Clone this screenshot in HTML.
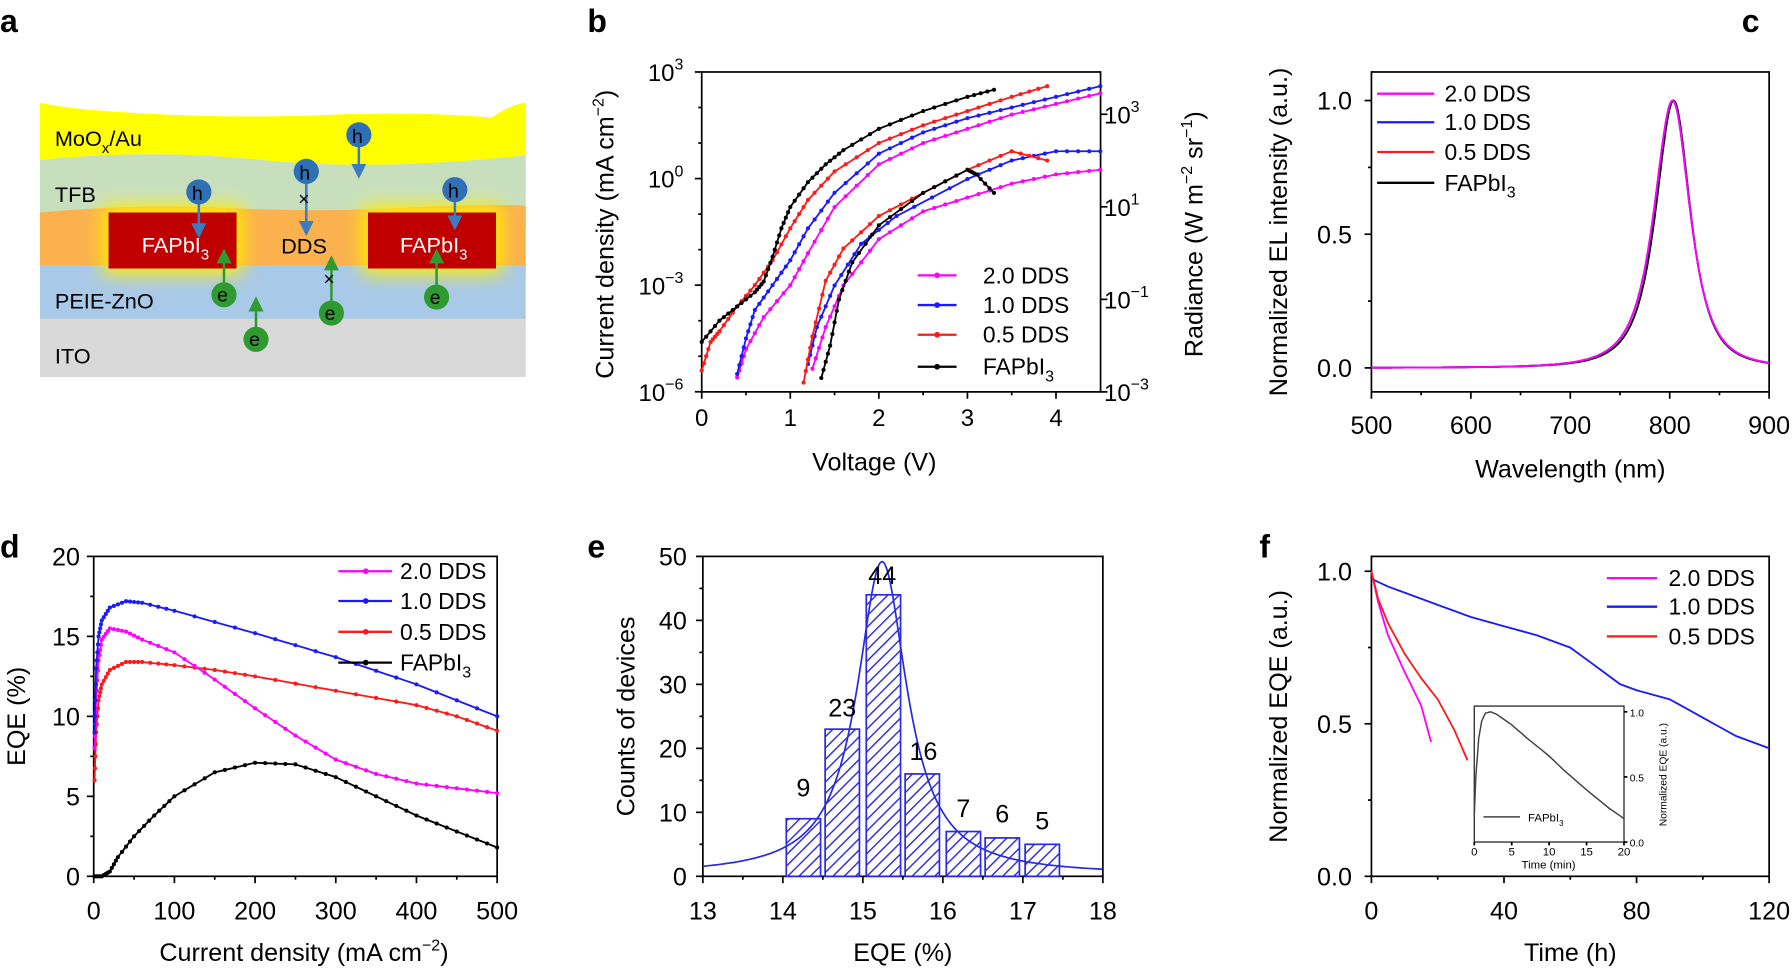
<!DOCTYPE html>
<html><head><meta charset="utf-8"><style>
html,body{margin:0;padding:0;background:#fff}
svg{display:block}
text{font-family:"Liberation Sans",Arial,sans-serif;fill:#000}
</style></head><body>
<svg id="s" width="1792" height="970" viewBox="0 0 1568 849" preserveAspectRatio="none" xmlns="http://www.w3.org/2000/svg">
<defs>
<filter id="glow" x="-30%" y="-40%" width="160%" height="180%"><feGaussianBlur stdDeviation="8"/></filter>
<pattern id="hatch" width="7" height="7" patternUnits="userSpaceOnUse" patternTransform="rotate(45)"><rect width="7" height="7" fill="#fff"/><line x1="0" y1="0" x2="0" y2="7" stroke="#2a2ae0" stroke-width="2.5"/></pattern>
<marker id="ab" markerWidth="6" markerHeight="6" refX="3" refY="3" orient="auto"><path d="M0,0L6,3L0,6z" fill="#3a7cc0"/></marker>
<marker id="ag" markerWidth="6" markerHeight="6" refX="3" refY="3" orient="auto"><path d="M0,0L6,3L0,6z" fill="#2f9a2f"/></marker>
</defs>
<g font-weight="bold" font-size="28">
<text x="0" y="28">a</text><text x="514" y="28">b</text><text x="1524" y="28">c</text>
<text x="0" y="488">d</text><text x="514" y="488">e</text><text x="1102" y="488">f</text></g>

<g>
<path d="M35,90 Q60,95 90,97 Q200,105 300,100 Q380,98 430,103 Q450,90 460,90 L460,200 L35,200z" fill="#ffff00"/>
<path d="M35,140 Q130,130 230,140 Q330,150 460,136 L460,200 L35,200z" fill="#c8dfbe"/>
<path d="M35,186 Q120,178 200,182 T350,182 T460,180 L460,240 L35,240z" fill="#fbb24e"/>
<rect x="35" y="232" width="425" height="50" fill="#a9c9e8"/>
<rect x="35" y="279" width="425" height="51" fill="#d9d9d9"/>
<rect x="90" y="180" width="122" height="60" fill="#ffee00" filter="url(#glow)"/>
<rect x="317" y="180" width="122" height="60" fill="#ffee00" filter="url(#glow)"/>
<rect x="95" y="186" width="112" height="49" fill="#c00000"/>
<rect x="322" y="186" width="112" height="49" fill="#c00000"/>
<g font-size="19"><text x="48" y="128">MoO<tspan font-size="13" dy="6">x</tspan><tspan dy="-6">/Au</tspan></text>
<text x="48" y="177">TFB</text><text x="48" y="270">PEIE-ZnO</text><text x="48" y="318">ITO</text>
<text x="246" y="222">DDS</text>
<text x="124" y="221" style="fill:#fff">FAPbI<tspan font-size="13" dy="6" style="fill:#fff">3</tspan></text>
<text x="350" y="221" style="fill:#fff">FAPbI<tspan font-size="13" dy="6" style="fill:#fff">3</tspan></text></g>
<g stroke="#3a7cc0" stroke-width="2.2" marker-end="url(#ab)">
<line x1="174" y1="172" x2="174" y2="202"/><line x1="268" y1="152" x2="268" y2="200"/><line x1="314" y1="118" x2="314" y2="150"/><line x1="398" y1="168" x2="398" y2="195"/></g>
<g stroke="#2f9a2f" stroke-width="2.2" marker-end="url(#ag)">
<line x1="196" y1="255" x2="196" y2="224"/><line x1="290" y1="272" x2="290" y2="230"/><line x1="382" y1="258" x2="382" y2="224"/><line x1="224" y1="296" x2="224" y2="266"/></g>
<g fill="#2f6fb5"><circle cx="174" cy="168" r="11"/><circle cx="268" cy="150" r="11"/><circle cx="314" cy="118" r="11"/><circle cx="398" cy="166" r="11"/></g>
<g fill="#2f9a2f"><circle cx="196" cy="258" r="11"/><circle cx="290" cy="274" r="11"/><circle cx="382" cy="260" r="11"/><circle cx="224" cy="297" r="11"/></g>
<g font-size="17"><text x="168" y="175">h</text><text x="262" y="157">h</text><text x="308" y="125">h</text><text x="392" y="173">h</text>
<text x="190" y="264">e</text><text x="284" y="280">e</text><text x="376" y="266">e</text><text x="218" y="303">e</text></g>
<text x="261" y="180" font-size="17">×</text><text x="283" y="250" font-size="17">×</text>
</g>
<g id="plots"></g>
</svg>
<script>
const NS="http://www.w3.org/2000/svg";const P=document.getElementById('plots');
function el(t,a,txt){const e=document.createElementNS(NS,t);for(const k in a)e.setAttribute(k,a[k]);if(txt!==undefined)e.innerHTML=txt;P.appendChild(e);return e;}
function frame(x0,y0,x1,y1){el('rect',{x:x0,y:y0,width:x1-x0,height:y1-y0,fill:'none',stroke:'#000','stroke-width':1.5});}
function tx(x,y,s,o){o=o||{};el('text',Object.assign({x:x,y:y,'font-size':o.fs||21,'text-anchor':o.a||'middle'},o.extra||{}),s);}
function poly(pts,c,w,mk){el('polyline',{points:pts.map(p=>p[0].toFixed(1)+','+p[1].toFixed(1)).join(' '),fill:'none',stroke:c,'stroke-width':w||1.8});
 if(mk){for(let i=0;i<pts.length;i+=mk)el('circle',{cx:pts[i][0],cy:pts[i][1],r:1.8,fill:c});}}
function interp(arr,n){const out=[];for(let i=0;i<arr.length-1;i++){for(let k=0;k<n;k++){const t=k/n;out.push([arr[i][0]+(arr[i+1][0]-arr[i][0])*t,arr[i][1]+(arr[i+1][1]-arr[i][1])*t]);}}out.push(arr[arr.length-1]);return out;}
function vt(x,y,len){el('line',{x1:x,y1:y,x2:x,y2:y+len,stroke:'#000','stroke-width':1.5});}
function ht(x,y,len){el('line',{x1:x,y1:y,x2:x+len,y2:y,stroke:'#000','stroke-width':1.5});}
const C={m:'#ff00ff',b:'#1a1aff',r:'#ff1a1a',k:'#000'};

{const X=v=>614+v*77.5,YL=l=>63+(3-l)*31.1,YR=l=>100+(3-l)*40.5;
frame(614,63,963,343);
for(let v=0;v<=4;v++){vt(X(v),343,6);tx(X(v),373,v);} for(let v=0.5;v<4.5;v+=1)vt(X(v),343,3);
for(let l=-6;l<=3;l++){ht(614,YL(l),-(l%3==0?6:3));}
[3,0,-3,-6].forEach(l=>{el('text',{x:598,y:YL(l)+8,'font-size':21,'text-anchor':'end'},'10<tspan font-size="14" dy="-10">'+(l<0?'−'+(-l):l)+'</tspan>');});
[3,1,-1,-3].forEach(l=>{ht(963,YR(l),6);el('text',{x:966,y:YR(l)+8,'font-size':21},'10<tspan font-size="14" dy="-10">'+(l<0?'−'+(-l):l)+'</tspan>');});
tx(765,412,'Voltage (V)',{fs:22});
el('text',{transform:'translate(537,205) rotate(-90)','font-size':22,'text-anchor':'middle'},'Current density (mA cm<tspan font-size="14" dy="-9">−2</tspan><tspan dy="9">)</tspan>');
el('text',{transform:'translate(1052,205) rotate(-90)','font-size':22,'text-anchor':'middle'},'Radiance (W m<tspan font-size="14" dy="-9">−2</tspan><tspan dy="9"> sr</tspan><tspan font-size="14" dy="-9">−1</tspan><tspan dy="9">)</tspan>');
const J={k:[[0,-4.6],[0.2,-4.0],[0.4,-3.6],[0.6,-3.2],[0.7,-2.9],[0.8,-2.2],[0.9,-1.4],[1.0,-0.8],[1.2,-0.1],[1.4,0.4],[1.6,0.8],[2,1.4],[2.5,1.9],[3,2.3],[3.3,2.5]],
r:[[0,-5.4],[0.1,-4.6],[0.2,-4.3],[0.4,-3.6],[0.6,-3.0],[0.8,-2.3],[1.0,-1.4],[1.2,-0.6],[1.5,0.2],[2,1.0],[2.5,1.5],[3,1.9],[3.5,2.3],[3.9,2.6]],
b:[[0.4,-5.5],[0.5,-4.5],[0.6,-3.7],[0.8,-3.0],[1.0,-2.3],[1.2,-1.4],[1.5,-0.4],[2,0.7],[2.5,1.3],[3,1.7],[3.5,2.0],[4,2.3],[4.5,2.6]],
m:[[0.4,-5.6],[0.5,-4.8],[0.7,-3.9],[1.0,-3.0],[1.2,-2.1],[1.5,-0.8],[2,0.4],[2.5,1.0],[3,1.4],[3.5,1.8],[4,2.1],[4.5,2.4]]};
const R={k:[[1.35,-2.7],[1.45,-2.0],[1.55,-1.0],[1.7,-0.2],[2,0.6],[2.5,1.3],[3,1.8],[3.1,1.7],[3.3,1.3]],
r:[[1.15,-2.8],[1.25,-1.8],[1.4,-0.6],[1.6,0.1],[2,0.8],[2.5,1.3],[3,1.8],[3.5,2.2],[3.9,2.0]],
b:[[1.2,-2.4],[1.3,-1.6],[1.5,-0.7],[1.8,0.2],[2.2,0.8],[3,1.6],[3.5,2.0],[4,2.2],[4.5,2.2]],
m:[[1.25,-2.5],[1.4,-1.6],[1.6,-0.7],[2,0.3],[2.5,0.9],[3,1.2],[3.5,1.5],[4,1.7],[4.5,1.8]]};
['m','b','r','k'].forEach(c=>{poly(interp(J[c],8).map(p=>[X(p[0]),YL(p[1])]),C[c],1.6,2);poly(interp(R[c],8).map(p=>[X(p[0]),YR(p[1])]),C[c],1.6,2);});
[['m','2.0 DDS',241],['b','1.0 DDS',267],['r','0.5 DDS',293],['k','FAPbI<tspan font-size="14" dy="6">3</tspan>',321]].forEach(a=>{
el('line',{x1:803,y1:a[2],x2:837,y2:a[2],stroke:C[a[0]],'stroke-width':2});el('circle',{cx:820,cy:a[2],r:2.5,fill:C[a[0]]});
el('text',{x:860,y:a[2]+7,'font-size':20},a[1]);});}

{const X=w=>1200+(w-500)*0.87,Y=v=>322-v*234;
frame(1200,63,1548,343);
for(let w=500;w<=900;w+=100){vt(X(w),343,6);tx(X(w),380,w,{fs:22});} for(let w=550;w<900;w+=100)vt(X(w),343,3);
[0,0.5,1].forEach(v=>{ht(1200,Y(v),-6);tx(1183,Y(v)+8,v.toFixed(1),{fs:22,a:'end'});});[0.25,0.75].forEach(v=>ht(1200,Y(v),-3));
tx(1374,418,'Wavelength (nm)',{fs:22});
el('text',{transform:'translate(1126,203) rotate(-90)','font-size':22,'text-anchor':'middle'},'Normalized EL intensity (a.u.)');
const sp=(w,p,g)=>{const d=(w-p)/g;return 1/(1+d*d)**1.5;};
['k','r','b','m'].forEach((c,i)=>{const pts=[];for(let w=500;w<=900;w+=1){const p=803+(c=='k'?1:0),g=(w<p?29:27)+(c=='k'?-1:0);pts.push([X(w),Y(sp(w,p,g))]);}poly(pts,C[c],1.6);});
[['m','2.0 DDS',82],['b','1.0 DDS',107],['r','0.5 DDS',133],['k','FAPbI<tspan font-size="14" dy="6">3</tspan>',160]].forEach(a=>{
el('line',{x1:1205,y1:a[2],x2:1255,y2:a[2],stroke:C[a[0]],'stroke-width':2});el('text',{x:1264,y:a[2]+7,'font-size':20},a[1]);});}

{const X=v=>82+v*0.706,Y=v=>767-v*14;
frame(82,487,435,767);
for(let v=0;v<=500;v+=100){vt(X(v),767,6);tx(X(v),805,v,{fs:22});} for(let v=50;v<500;v+=100)vt(X(v),767,3);
for(let v=0;v<=20;v+=5){ht(82,Y(v),-6);tx(70,Y(v)+8,v,{fs:22,a:'end'});} for(let v=2.5;v<20;v+=5)ht(82,Y(v),-3);
el('text',{x:266,y:841,'font-size':22,'text-anchor':'middle'},'Current density (mA cm<tspan font-size="14" dy="-9">−2</tspan><tspan dy="9">)</tspan>');
el('text',{transform:'translate(22,627) rotate(-90)','font-size':22,'text-anchor':'middle'},'EQE (%)');
const D={b:[[1,9],[3,13],[6,15],[10,16],[20,16.8],[40,17.2],[60,17.1],[100,16.6],[200,15.2],[300,13.7],[400,12],[500,10]],
m:[[1,8],[3,11],[6,13.5],[10,14.8],[20,15.5],[40,15.3],[60,14.8],[100,14],[150,12.3],[200,10.5],[250,8.8],[300,7.3],[350,6.4],[400,5.8],[450,5.5],[500,5.2]],
r:[[1,6],[3,9],[6,11],[10,12],[20,12.9],[40,13.4],[60,13.4],[100,13.2],[150,12.9],[200,12.5],[300,11.6],[400,10.7],[450,10],[500,9.1]],
k:[[1,0],[10,0],[20,0.3],[30,1.2],[50,2.5],[75,3.8],[100,5],[150,6.5],[200,7.1],[250,7.0],[300,6.2],[350,5.0],[400,3.8],[450,2.8],[500,1.8]]};
['k','r','m','b'].forEach(c=>poly(interp(D[c],8).map(p=>[X(p[0]),Y(p[1])]),C[c],1.6,2));
[['m','2.0 DDS',500],['b','1.0 DDS',526],['r','0.5 DDS',553],['k','FAPbI<tspan font-size="14" dy="6">3</tspan>',580]].forEach(a=>{
el('line',{x1:296,y1:a[2],x2:343,y2:a[2],stroke:C[a[0]],'stroke-width':2});el('circle',{cx:320,cy:a[2],r:2.5,fill:C[a[0]]});el('text',{x:350,y:a[2]+7,'font-size':20},a[1]);});}

{const X=v=>615+(v-13)*70,Y=v=>767-v*5.6;
frame(615,487,965,767);
for(let v=13;v<=18;v++){vt(X(v),767,6);tx(X(v),805,v,{fs:22});} for(let v=13.5;v<18;v++)vt(X(v),767,3);
for(let v=0;v<=50;v+=10){ht(615,Y(v),-6);tx(601,Y(v)+8,v,{fs:22,a:'end'});} for(let v=5;v<50;v+=10)ht(615,Y(v),-3);
tx(790,841,'EQE (%)',{fs:22});
el('text',{transform:'translate(555,627) rotate(-90)','font-size':22,'text-anchor':'middle'},'Counts of devices');
const bars=[[688,9],[722,23],[758,44],[792,16],[828,7],[862,6],[897,5]];
bars.forEach(b=>{el('rect',{x:b[0],y:Y(b[1]),width:30,height:b[1]*5.6,fill:'url(#hatch)',stroke:'#2a2ae0','stroke-width':1.5});});
const pts=[];for(let v=13;v<=18;v+=0.02){const d=(v-15.24)/0.38;pts.push([X(v),Y(0.2+49/(1+d*d))]);}poly(pts,'#2a2ae0',1.5);
[[703,697,9],[737,627,23],[772,511,44],[808,665,16],[843,715,7],[877,720,6],[912,726,5]].forEach(a=>tx(a[0],a[1],a[2],{fs:22}));}

{const X=v=>1200+v*2.9,Y=v=>767-v*267;
frame(1200,487,1548,767);
for(let v=0;v<=120;v+=40){vt(X(v),767,6);tx(X(v),805,v,{fs:22});} for(let v=20;v<120;v+=40)vt(X(v),767,3);
[0,0.5,1].forEach(v=>{ht(1200,Y(v),-6);tx(1183,Y(v)+8,v.toFixed(1),{fs:22,a:'end'});});[0.25,0.75].forEach(v=>ht(1200,Y(v),-3));
tx(1374,841,'Time (h)',{fs:22});
el('text',{transform:'translate(1126,627) rotate(-90)','font-size':22,'text-anchor':'middle'},'Normalized EQE (a.u.)');
const bl=[[0,0.98],[1,0.97],[5,0.95],[10,0.93],[20,0.89],[30,0.85],[40,0.82],[50,0.79],[60,0.75],[65,0.71],[70,0.67],[75,0.63],[80,0.61],[90,0.58],[95,0.55],[100,0.52],[105,0.49],[110,0.46],[120,0.42]];
poly(bl.map(p=>[X(p[0]),Y(p[1])]),C.b,1.6);
poly([[0,1],[2,0.9],[5,0.79],[10,0.67],[15,0.56],[18,0.44]].map(p=>[X(p[0]),Y(p[1])]),C.m,1.6);
poly([[0,1],[2,0.91],[5,0.83],[10,0.73],[15,0.65],[20,0.58],[25,0.48],[29,0.38]].map(p=>[X(p[0]),Y(p[1])]),C.r,1.6);
[['m','2.0 DDS',506],['b','1.0 DDS',531],['r','0.5 DDS',557]].forEach(a=>{
el('line',{x1:1406,y1:a[2],x2:1450,y2:a[2],stroke:C[a[0]],'stroke-width':2});el('text',{x:1460,y:a[2]+7,'font-size':20},a[1]);});
const x0=1290,x1=1421,y0=618,y1=737,IX=v=>x0+v*(x1-x0)/20,IY=v=>y1-v*(y1-623);
el('rect',{x:x0,y:y0,width:x1-x0,height:y1-y0,fill:'#fff',stroke:'#333','stroke-width':1.2});
[0,5,10,15,20].forEach(v=>{vt(IX(v),y1,3);tx(IX(v),y1+12,v,{fs:10});});
[0,0.5,1].forEach(v=>{ht(x1,IY(v),3);el('text',{x:x1+5,y:IY(v)+4,'font-size':9},v.toFixed(1));});
tx(1355,y1+23,'Time (min)',{fs:10});
el('text',{transform:'translate(1458,678) rotate(-90)','font-size':9,'text-anchor':'middle'},'Normalized EQE (a.u.)');
const ic=[[0,0.2],[0.2,0.5],[0.6,0.8],[1,0.93],[1.5,0.99],[2.2,1.0],[3,0.98],[5,0.9],[7,0.8],[10,0.66],[12,0.55],[15,0.4],[18,0.26],[20,0.18]];
poly(interp(ic,3).map(p=>[IX(p[0]),IY(p[1])]),'#444',1.3);
el('line',{x1:1298,y1:715,x2:1330,y2:715,stroke:'#444','stroke-width':1.3});
el('text',{x:1337,y:719,'font-size':10},'FAPbI<tspan font-size="7" dy="4">3</tspan>');}
</script>
</body></html>
